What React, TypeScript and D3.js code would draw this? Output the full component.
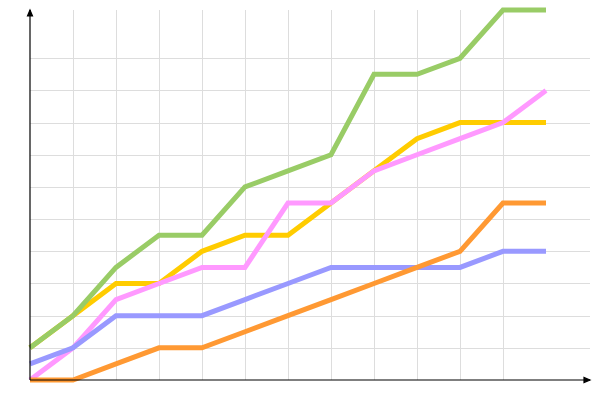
import * as d3 from "d3";

const steps = d3.range(0, 13);
const green = [1, 2, 3.5, 4.5, 4.5, 6, 6.5, 7, 9.5, 9.5, 10, 11.5, 11.5];
const yellow = [1, 2, 3, 3, 4, 4.5, 4.5, 5.5, 6.5, 7.5, 8, 8, 8];
const pink = [0, 1, 2.5, 3, 3.5, 3.5, 5.5, 5.5, 6.5, 7, 7.5, 8, 9];
const blue = [0.5, 1, 2, 2, 2, 2.5, 3, 3.5, 3.5, 3.5, 3.5, 4, 4];
const orange = [0, 0, 0.5, 1, 1, 1.5, 2, 2.5, 3, 3.5, 4, 5.5, 5.5];

const series = [
    { name: "yellow", values: yellow, color: "#ffcc00" },
    { name: "pink", values: pink, color: "#ff99ff" },
    { name: "blue", values: blue, color: "#9999ff" },
    { name: "orange", values: orange, color: "#ff9933" },
    { name: "green", values: green, color: "#99cc66" },
];

export default function App() {
    const width = 600;
    const height = 400;
    const left = 30;
    const bottom = 380;
    const top = 10;
    const right = 590;

    const x = d3.scaleLinear([0, 12], [left, left + 43 * 12]);
    const y = d3.scaleLinear([0, 11.5], [bottom, top]);
    const line = d3.line<number>((_, i) => x(steps[i]), (d) => y(d));

    const hTicks = d3.range(1, 11);
    const vTicks = d3.range(1, 12);

    return (
        <svg width={width} height={height} style={{ position: "absolute", left: 0, top: 0 }}>
            <g stroke="#dddddd" strokeWidth="1" shapeRendering="crispEdges">
                {hTicks.map((t) => (
                    <line key={"h" + t} x1={left} x2={right} y1={Math.round(y(t)) + 0.5} y2={Math.round(y(t)) + 0.5} />
                ))}
                {vTicks.map((t) => (
                    <line key={"v" + t} x1={Math.round(x(t)) + 0.5} x2={Math.round(x(t)) + 0.5} y1={top} y2={bottom} />
                ))}
            </g>
            {series.map((s) => (
                <path key={s.name} d={line(s.values) ?? ""} fill="none" stroke={s.color} strokeWidth="5" />
            ))}
            <g stroke="#000" strokeWidth="1.2" fill="#000">
                <line x1={left} x2={left} y1={bottom} y2={top} />
                <line x1={left} x2={right} y1={bottom} y2={bottom} />
                <path d={`M${left},${top} L${left - 2.5},${top + 6} L${left + 2.5},${top + 6} Z`} />
                <path d={`M${right},${bottom} L${right - 6},${bottom - 2.5} L${right - 6},${bottom + 2.5} Z`} />
            </g>
        </svg>
    );
}
